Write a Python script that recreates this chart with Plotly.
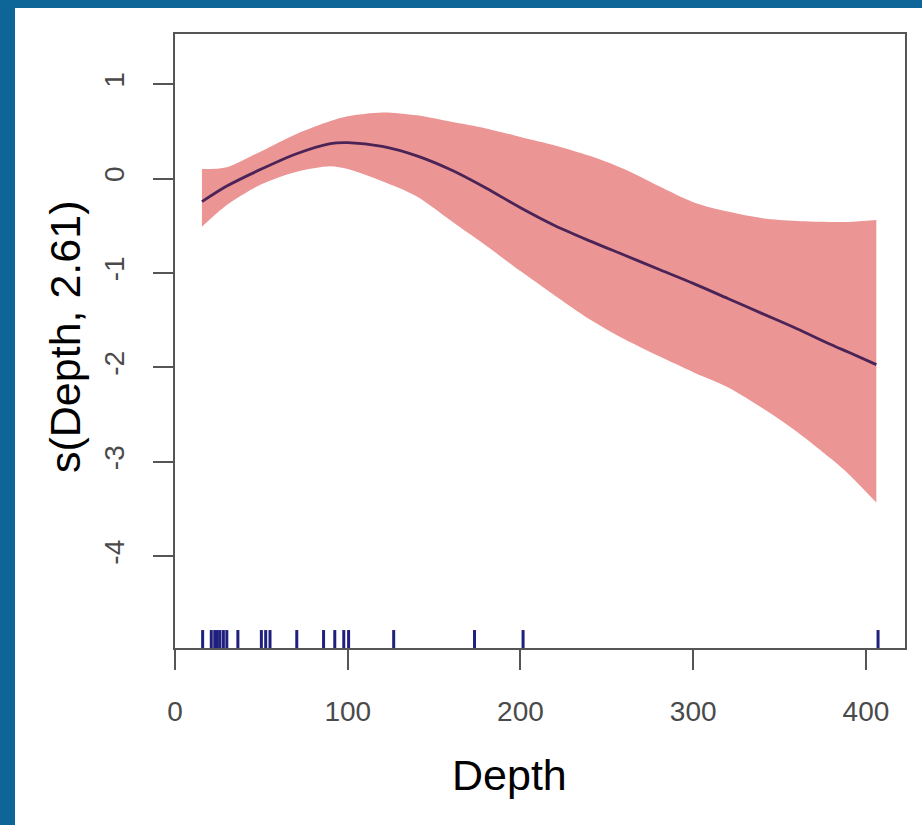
import plotly.graph_objects as go

# ---- data ----
depth = [15.6, 30, 50, 70, 90, 100, 120, 140, 160, 180, 200, 220, 240, 260,
         280, 300, 320, 340, 360, 380, 390, 406]
fit = [-0.245, -0.08, 0.10, 0.26, 0.37, 0.38, 0.34, 0.24, 0.09, -0.10, -0.31,
       -0.50, -0.66, -0.81, -0.96, -1.11, -1.27, -1.43, -1.59, -1.76, -1.84, -1.97]
upper = [0.10, 0.12, 0.29, 0.47, 0.61, 0.66, 0.70, 0.67, 0.60, 0.53, 0.44,
         0.35, 0.24, 0.10, -0.08, -0.25, -0.35, -0.42, -0.45, -0.46, -0.46, -0.44]
lower = [-0.51, -0.28, -0.06, 0.07, 0.13, 0.10, -0.03, -0.19, -0.45, -0.71,
         -0.98, -1.24, -1.49, -1.70, -1.88, -2.05, -2.21, -2.43, -2.68, -2.97,
         -3.13, -3.43]
rug_depths = [16, 21, 23, 24.5, 26, 28, 30, 36.4, 50, 52.5, 55, 70.5, 86,
              92.5, 97.7, 100.5, 126.6, 173.4, 201.5, 407]

x_ticks = [0, 100, 200, 300, 400]
y_ticks = [-4, -3, -2, -1, 0, 1]
x_range = [0, 422.6]
y_range = [-4.97, 1.53]
rug_top = -4.78

x_title = "Depth"
y_title = "s(Depth, 2.61)"

BAND = "#ec9595"
LINE = "#4a2456"
RUG = "#1f1f7e"
AXIS = "#555555"
BLUE = "#0e6598"

fig = go.Figure()

# confidence band: lower edge, then upper edge filled down to it
fig.add_trace(go.Scatter(x=depth, y=lower, mode="lines",
                         line=dict(width=0, color=BAND, shape="spline", smoothing=0.8),
                         hoverinfo="skip", showlegend=False))
fig.add_trace(go.Scatter(x=depth, y=upper, mode="lines", fill="tonexty",
                         fillcolor=BAND,
                         line=dict(width=0, color=BAND, shape="spline", smoothing=0.8),
                         hoverinfo="skip", showlegend=False))
# fitted smooth
fig.add_trace(go.Scatter(x=depth, y=fit, mode="lines",
                         line=dict(color=LINE, width=2.8, shape="spline", smoothing=0.8),
                         showlegend=False))
# rug
rx, ry = [], []
for d in rug_depths:
    rx += [d, d, None]
    ry += [y_range[0], rug_top, None]
fig.add_trace(go.Scatter(x=rx, y=ry, mode="lines",
                         line=dict(color=RUG, width=3), showlegend=False,
                         hoverinfo="skip", cliponaxis=False))

W, H = 922, 825
ml, mr, mt, mb = 175, 17, 34, 177
pw = W - ml - mr
ph = H - mt - mb

fig.update_layout(
    width=W, height=H,
    margin=dict(l=ml, r=mr, t=mt, b=mb, pad=0),
    paper_bgcolor="white", plot_bgcolor="white",
    font=dict(family="Liberation Sans, Arial, sans-serif"),
    showlegend=False,
    xaxis=dict(range=x_range, tickvals=x_ticks, ticktext=[str(v) for v in x_ticks],
               showgrid=False, zeroline=False, showline=True, linecolor=AXIS,
               linewidth=2.2, mirror=True, ticks="outside", ticklen=20,
               tickwidth=2.2, tickcolor=AXIS, ticklabelstandoff=17,
               tickfont=dict(size=28, color="#4a4a4a")),
    yaxis=dict(range=y_range, tickvals=y_ticks, ticktext=[str(v) for v in y_ticks],
               showgrid=False, zeroline=False, showline=True, linecolor=AXIS,
               linewidth=2.2, mirror=True, ticks="outside", ticklen=20,
               tickwidth=2.2, tickcolor=AXIS, tickangle=-90, ticklabelstandoff=18,
               tickfont=dict(size=28, color="#4a4a4a")),
    annotations=[
        dict(text=x_title, xref="paper", yref="paper",
             x=(509 - ml) / pw, y=0, yshift=-(775 - (H - mb)),
             xanchor="center", yanchor="middle", showarrow=False,
             font=dict(size=43, color="black")),
        dict(text=y_title, xref="paper", yref="paper",
             x=0, xshift=-(ml - 65), y=((H - mb) - 337) / ph,
             xanchor="center", yanchor="middle", textangle=-90, showarrow=False,
             font=dict(size=43, color="black")),
    ],
    shapes=[
        dict(type="rect", xref="paper", yref="paper", layer="below",
             x0=-ml / pw, x1=(15 - ml) / pw, y0=-(mb / ph), y1=1 + mt / ph,
             fillcolor=BLUE, line=dict(width=0)),
        dict(type="rect", xref="paper", yref="paper", layer="below",
             x0=-ml / pw, x1=1 + mr / pw, y0=1 + (mt - 8) / ph, y1=1 + mt / ph,
             fillcolor=BLUE, line=dict(width=0)),
    ],
)

fig.write_html("out.html")
